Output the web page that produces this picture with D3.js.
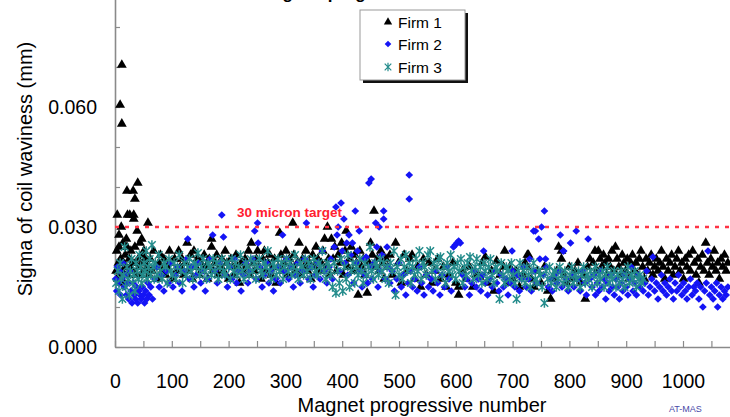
<!DOCTYPE html>
<html>
<head>
<meta charset="utf-8">
<script src="https://cdn.jsdelivr.net/npm/d3@7/dist/d3.min.js"></script>
<style>
body { margin: 0; background: #fff; }
svg text { font-family: "Liberation Sans", Arial, sans-serif; }
</style>
</head>
<body>
<div id="chart"></div>
<script>
// [magnet number, sigma (mm)]
var firm1 = [
  [2,0.019],[3,0.024],[4,0.033],[5,0.017],[6,0.021],[7,0.028],[7,0.025],[8,0.018],[9,0.0605],[10,0.022],[11,0.030],[12,0.0705],[12,0.0558],
  [13,0.019],[14,0.026],[15,0.021],[16,0.016],[18,0.023],[19,0.020],[20,0.027],[21,0.039],[21,0.025],[22,0.033],[23,0.018],[25,0.022],
  [26,0.033],[27,0.020],[28,0.024],[30,0.019],[31,0.021],[32,0.039],[33,0.033],[33,0.032],[35,0.037],[35,0.025],[36,0.021],[37,0.018],
  [39,0.029],[40,0.041],[41,0.022],[43,0.020],[44,0.026],[46,0.018],[47,0.027],[48,0.023],[50,0.021],[51,0.024],[53,0.019],[55,0.022],
  [57,0.020],[58,0.031],[60,0.018],
  [62,0.022],[65,0.019],[68,0.024],[71,0.020],[74,0.017],[77,0.021],[80,0.023],[83,0.019],[86,0.022],[89,0.018],[92,0.020],[96,0.024],
  [99,0.021],[102,0.017],[105,0.022],[108,0.019],[112,0.024],[115,0.020],[118,0.022],[121,0.018],[124,0.021],[127,0.026],[130,0.019],
  [133,0.023],[136,0.017],[139,0.024],[142,0.020],[145,0.022],[148,0.018],[151,0.021],[154,0.019],[157,0.023],[160,0.020],[163,0.017],
  [166,0.022],[170,0.027],[170,0.025],[173,0.019],[176,0.021],[179,0.023],[182,0.018],[185,0.020],[188,0.022],[191,0.019],[194,0.024],
  [197,0.021],[200,0.017],[204,0.022],[207,0.020],[210,0.018],[213,0.023],[216,0.020],[219,0.016],[222,0.021],[226,0.019],[229,0.022],
  [232,0.020],[235,0.024],[238,0.018],[240,0.026],[243,0.021],[246,0.019],[249,0.022],[251,0.024],[254,0.020],[257,0.017],[260,0.022],
  [263,0.024],[266,0.019],[269,0.021],[272,0.023],[275,0.018],[278,0.020],[281,0.022],[284,0.016],[287,0.020],[290,0.0285],[292,0.023],
  [295,0.019],[298,0.021],[301,0.024],[304,0.018],[307,0.022],[310,0.020],[313,0.031],[315,0.023],[318,0.019],[321,0.021],[324,0.026],
  [327,0.018],[330,0.022],[333,0.020],[336,0.024],[339,0.019],[342,0.021],[345,0.017],[348,0.023],[351,0.020],[354,0.025],[357,0.022],
  [360,0.019],[363,0.021],[366,0.024],[369,0.027],[372,0.020],[374,0.030],[376,0.022],[378,0.018],
  [381,0.027],[384,0.022],[387,0.025],[390,0.019],[393,0.023],[396,0.021],[399,0.026],[402,0.018],[405,0.024],[407,0.029],[410,0.020],
  [413,0.022],[416,0.025],[419,0.019],[422,0.023],[425,0.021],[428,0.013],[431,0.024],[434,0.020],[437,0.022],[440,0.018],[444,0.0135],
  [447,0.021],[450,0.026],[453,0.023],[456,0.034],[459,0.020],[462,0.022],[465,0.019],[468,0.024],[471,0.021],[474,0.017],[477,0.022],
  [480,0.020],
  [484,0.023],[489,0.018],[494,0.026],[499,0.021],[504,0.016],[509,0.023],[514,0.019],[519,0.022],[523,0.023],[528,0.017],[533,0.020],
  [538,0.015],[543,0.022],[548,0.018],[553,0.021],[558,0.016],[563,0.019],[568,0.022],[573,0.017],[578,0.020],[583,0.015],[588,0.018],
  [595,0.021],[600,0.016],[605,0.013],[605,0.015],[612,0.019],[618,0.017],[624,0.020],[630,0.015],[636,0.018],[642,0.0175],[647,0.021],
  [652,0.0225],[657,0.016],[663,0.019],[667,0.014],[672,0.0215],[678,0.018],[684,0.020],[686,0.024],[690,0.016],[695,0.020],[700,0.017],
  [706,0.019],[712,0.015],[718,0.018],[722,0.021],[725,0.020],[726,0.023],[728,0.023],[733,0.017],[738,0.015],[744,0.019],[750,0.016],
  [756,0.020],[762,0.014],[767,0.012],[772,0.017],[778,0.019],[781,0.025],[786,0.022],[786,0.024],[790,0.018],[795,0.016],[800,0.020],
  [805,0.017],[810,0.019],[815,0.021],[820,0.016],[825,0.018],[828,0.012],[832,0.020],[836,0.022],
  [842,0.021],[845,0.024],[848,0.019],[851,0.024],[854,0.022],[857,0.020],[860,0.023],[863,0.021],[866,0.018],[869,0.022],[872,0.020],
  [875,0.024],[878,0.019],[881,0.025],[884,0.022],[887,0.020],[890,0.018],[893,0.023],[896,0.021],[899,0.019],[902,0.022],[905,0.017],
  [908,0.021],[911,0.023],[914,0.019],[917,0.021],[920,0.018],[923,0.022],[926,0.024],[929,0.020],[932,0.017],[935,0.022],[938,0.019],
  [941,0.021],[944,0.023],[947,0.018],[950,0.020],[953,0.022],[956,0.019],[959,0.021],[962,0.024],[965,0.020],[968,0.017],[971,0.022],
  [974,0.019],[977,0.021],[980,0.023],[983,0.018],[986,0.020],[989,0.022],[992,0.024],[995,0.019],[998,0.021],[1001,0.017],[1004,0.022],
  [1007,0.020],[1010,0.023],[1013,0.019],[1017,0.024],[1020,0.021],[1023,0.018],[1026,0.022],[1028,0.016],[1031,0.020],[1034,0.023],
  [1037,0.019],[1040,0.026],[1043,0.021],[1046,0.018],[1049,0.022],[1052,0.020],[1055,0.024],[1058,0.019],[1061,0.021],[1064,0.017],
  [1067,0.022],[1070,0.020],[1073,0.023],[1076,0.019],[1079,0.021]
];

var firm2 = [
  [1,0.017],[3,0.014],[4,0.020],[6,0.016],[8,0.019],[10,0.013],[12,0.017],[14,0.021],[16,0.015],[18,0.018],[20,0.013],[22,0.016],
  [24,0.012],[26,0.019],[28,0.014],[30,0.011],[32,0.016],[34,0.013],[36,0.012],[38,0.015],[40,0.011],[42,0.014],[44,0.013],[46,0.012],
  [48,0.015],[50,0.013],[52,0.011],[54,0.014],[56,0.012],[58,0.016],[60,0.013],[63,0.015],[66,0.012],
  [70,0.017],[74,0.020],[78,0.015],[82,0.018],[86,0.014],[90,0.019],[94,0.016],[98,0.021],[102,0.015],[106,0.018],[110,0.020],[114,0.016],
  [118,0.014],[122,0.019],[126,0.022],[128,0.027],[131,0.017],[135,0.020],[139,0.015],[143,0.018],[147,0.021],[151,0.016],[155,0.019],
  [159,0.014],[163,0.017],[167,0.022],[172,0.028],[176,0.019],[180,0.016],[184,0.021],[188,0.033],[191,0.0275],[194,0.018],[198,0.015],
  [202,0.020],[206,0.017],[210,0.022],[214,0.016],[218,0.019],[222,0.014],[226,0.018],[230,0.021],[234,0.016],[238,0.019],[242,0.022],
  [246,0.029],[249,0.017],[251,0.031],[252,0.026],[255,0.020],[259,0.015],[263,0.018],[267,0.021],[271,0.016],[275,0.019],[279,0.014],
  [283,0.017],[287,0.020],[291,0.016],[295,0.028],[298,0.019],[302,0.022],[306,0.017],[310,0.020],[314,0.015],[318,0.018],[322,0.021],
  [326,0.016],[330,0.019],[334,0.022],[337,0.031],[341,0.017],[345,0.020],[349,0.015],[353,0.018],[357,0.021],[361,0.017],[365,0.024],
  [369,0.019],[373,0.016],[377,0.020],
  [380,0.022],[383,0.017],[386,0.025],[389,0.035],[391,0.028],[393,0.030],[395,0.019],[398,0.036],[400,0.024],[403,0.032],[405,0.021],
  [408,0.026],[410,0.018],[412,0.028],[415,0.023],[418,0.026],[420,0.016],[423,0.034],[425,0.021],[427,0.024],[430,0.029],[432,0.019],
  [435,0.015],[438,0.022],[440,0.018],[442,0.0225],[445,0.016],[447,0.041],[449,0.020],[451,0.042],[453,0.017],[456,0.021],[459,0.031],
  [461,0.025],[463,0.015],[465,0.030],[467,0.019],[470,0.023],[473,0.034],[473,0.032],[476,0.017],[479,0.025],[481,0.020],
  [484,0.016],[488,0.019],[492,0.014],[496,0.017],[500,0.021],[504,0.015],[508,0.018],[512,0.013],[516,0.016],[518,0.043],[518,0.037],
  [520,0.019],[524,0.015],[528,0.017],[532,0.014],[536,0.020],[540,0.016],[544,0.013],[548,0.018],[552,0.015],[556,0.017],[560,0.014],
  [564,0.019],[568,0.016],[572,0.013],[576,0.018],[580,0.015],[584,0.020],[588,0.017],[592,0.014],[596,0.025],[599,0.0255],[602,0.026],
  [605,0.0265],[608,0.026],[612,0.018],[616,0.015],[620,0.017],[624,0.013],[628,0.016],[632,0.019],[636,0.015],[640,0.017],[644,0.014],
  [648,0.018],[649,0.024],[652,0.016],[656,0.013],[660,0.017],[664,0.015],[668,0.019],[672,0.016],[676,0.014],[680,0.018],[684,0.015],
  [688,0.017],[692,0.013],[696,0.016],[699,0.024],[700,0.019],
  [704,0.015],[708,0.018],[712,0.014],[716,0.017],[720,0.020],[724,0.015],[728,0.017],[730,0.022],[733,0.014],[737,0.029],[737,0.019],
  [740,0.029],[743,0.016],[746,0.027],[748,0.022],[751,0.030],[754,0.018],[756,0.034],[758,0.022],[760,0.020],[763,0.015],[766,0.017],
  [770,0.014],[774,0.018],[778,0.016],[782,0.019],[784,0.028],[787,0.015],[789,0.024],[790,0.024],[794,0.017],[798,0.014],[802,0.026],
  [805,0.018],[808,0.015],[812,0.029],[815,0.017],[819,0.014],[823,0.019],[827,0.016],[830,0.013],[833,0.027],[836,0.017],
  [840,0.015],[843,0.018],[846,0.013],[849,0.016],[852,0.014],[855,0.019],[858,0.015],[861,0.017],[864,0.012],[867,0.016],[870,0.014],
  [873,0.018],[876,0.015],[879,0.013],[882,0.017],[885,0.015],[888,0.012],[891,0.016],[894,0.014],[897,0.018],[900,0.015],[903,0.013],
  [906,0.017],[909,0.020],[912,0.014],[915,0.016],[918,0.013],[921,0.018],[924,0.015],[927,0.017],[930,0.014],[933,0.016],[936,0.019],
  [939,0.013],[942,0.015],[945,0.017],[947,0.0225],[950,0.014],[953,0.016],[956,0.012],[959,0.015],[962,0.018],[965,0.014],[968,0.016],
  [971,0.013],[974,0.015],[977,0.017],[980,0.014],[983,0.012],[986,0.016],[989,0.014],[992,0.018],[995,0.015],[998,0.013],[1001,0.016],
  [1004,0.014],[1007,0.012],[1010,0.015],[1013,0.017],[1016,0.013],[1019,0.015],[1022,0.014],[1025,0.016],[1028,0.012],[1031,0.015],
  [1035,0.010],[1038,0.014],[1041,0.016],[1044,0.024],[1047,0.013],[1050,0.015],[1053,0.012],[1056,0.014],[1059,0.016],[1061,0.010],
  [1064,0.013],[1067,0.015],[1070,0.012],[1073,0.014],[1076,0.013],[1079,0.015]
];

var firm3 = [
  [2,0.016],[5,0.019],[7,0.014],[9,0.021],[11,0.017],[13,0.012],[15,0.018],[17,0.025],[19,0.015],[21,0.020],[23,0.017],[25,0.013],
  [27,0.019],[29,0.022],[31,0.016],[33,0.018],[35,0.014],[37,0.021],[39,0.019],[41,0.017],[43,0.023],[45,0.020],[47,0.016],[49,0.018],
  [51,0.021],[53,0.019],[55,0.024],[57,0.017],[59,0.020],[61,0.022],[63,0.018],[65,0.0255],[67,0.020],[69,0.017],
  [71,0.021],[74,0.018],[77,0.023],[80,0.019],[83,0.017],[86,0.021],[89,0.020],[92,0.016],[95,0.022],[98,0.019],[101,0.018],[104,0.021],
  [107,0.017],[110,0.020],[113,0.023],[116,0.019],[119,0.016],[122,0.021],[125,0.018],[128,0.020],[131,0.022],[134,0.019],[137,0.017],
  [140,0.021],[143,0.020],[146,0.0235],[149,0.018],[152,0.020],[155,0.022],[158,0.019],[161,0.017],[164,0.021],[167,0.020],[170,0.018],
  [173,0.022],[176,0.019],[179,0.021],[182,0.017],[185,0.020],[188,0.022],[191,0.019],[194,0.018],[197,0.021],[200,0.020],[203,0.017],
  [206,0.022],[209,0.019],[212,0.021],[215,0.018],[218,0.020],[221,0.023],[224,0.019],[227,0.017],[230,0.021],[233,0.020],[236,0.018],
  [239,0.022],[242,0.019],[245,0.021],[248,0.017],[251,0.020],[254,0.022],[257,0.019],[260,0.018],[263,0.021],[266,0.020],[269,0.024],
  [272,0.019],[275,0.017],[278,0.021],[281,0.020],[284,0.018],[287,0.022],[290,0.019],[293,0.021],[296,0.017],[299,0.020],[302,0.022],
  [305,0.019],[308,0.021],[311,0.018],[314,0.020],[317,0.023],[320,0.019],[323,0.017],[326,0.021],[329,0.020],[332,0.018],[335,0.022],
  [338,0.019],[341,0.021],[344,0.017],[347,0.020],[350,0.022],[353,0.019],[356,0.018],[359,0.021],[362,0.020],[365,0.024],[368,0.019],
  [371,0.017],[374,0.021],[377,0.020],
  [380,0.018],[383,0.015],[386,0.021],[389,0.0135],[392,0.019],[395,0.016],[398,0.022],[401,0.014],[404,0.020],[407,0.017],[410,0.023],
  [413,0.015],[416,0.019],[419,0.021],[422,0.016],[425,0.020],[428,0.018],[431,0.022],[434,0.019],[437,0.016],[440,0.021],[443,0.018],
  [446,0.020],[449,0.025],[452,0.019],[455,0.017],[458,0.021],[461,0.020],[464,0.018],[467,0.022],[470,0.019],[473,0.021],[476,0.017],
  [479,0.020],
  [482,0.016],[485,0.021],[488,0.019],[491,0.024],[494,0.013],[497,0.020],[500,0.018],[503,0.022],[506,0.017],[509,0.020],[512,0.023],
  [515,0.019],[518,0.021],[521,0.016],[524,0.020],[527,0.018],[530,0.022],[533,0.019],[536,0.024],[539,0.017],[542,0.021],[545,0.020],
  [548,0.018],[551,0.023],[555,0.024],[558,0.019],[561,0.021],[564,0.017],[567,0.020],[570,0.022],[573,0.0225],[576,0.018],[579,0.020],
  [582,0.016],[585,0.021],[588,0.019],[591,0.023],[594,0.018],[597,0.020],[600,0.017],[603,0.021],[606,0.019],[609,0.022],[612,0.016],
  [615,0.020],[618,0.018],[621,0.021],[625,0.0225],[628,0.019],[631,0.017],[634,0.020],[637,0.022],[640,0.018],[643,0.020],[646,0.016],
  [649,0.021],
  [652,0.019],[655,0.017],[658,0.020],[661,0.022],[664,0.018],[667,0.016],[670,0.020],[673,0.019],[677,0.012],[680,0.021],[683,0.018],
  [686,0.016],[689,0.020],[692,0.019],[695,0.017],[698,0.021],[701,0.018],[704,0.016],[707,0.012],[710,0.019],[713,0.021],[716,0.017],
  [719,0.019],[722,0.016],[725,0.020],[728,0.018],[731,0.015],[734,0.019],[737,0.021],[740,0.017],[743,0.016],[746,0.019],[749,0.018],
  [752,0.015],[756,0.011],[759,0.019],[762,0.017],[765,0.020],[768,0.016],[771,0.018],[774,0.019],[777,0.015],[780,0.017],[783,0.020],
  [786,0.018],[789,0.016],[792,0.019],[795,0.017],[798,0.015],[801,0.018],[804,0.020],[807,0.016],[810,0.018],[813,0.017],[816,0.019],
  [819,0.015],[822,0.018],[825,0.020],[828,0.016],[831,0.018],[834,0.017],[837,0.019],[840,0.015],[843,0.018],[846,0.020],[849,0.016],
  [852,0.018],[855,0.017],[858,0.019],[861,0.015],[864,0.018],[867,0.020],[870,0.016],[873,0.018],[876,0.017],[879,0.019],[882,0.015],
  [885,0.018],[888,0.016],[891,0.019],[894,0.017],[897,0.015],[900,0.018],[903,0.020],[906,0.016],[909,0.018],[912,0.017],[915,0.019],
  [918,0.015],[921,0.017],[924,0.018],[927,0.016],[930,0.017]
];

var seriesNames = ['Firm 1', 'Firm 2', 'Firm 3'];
var targetValue = 0.030;
var targetLabel = '30 micron target';
var xTickValues = [0,50,100,150,200,250,300,350,400,450,500,550,600,650,700,750,800,850,900,950,1000,1050];
var xTickLabels = [0,100,200,300,400,500,600,700,800,900,1000];
var yTickValues = [0,0.01,0.02,0.03,0.04,0.05,0.06,0.07,0.08];
var yTickLabels = [0,0.03,0.06];

var width = 730, height = 417;

var svg = d3.select('#chart').append('svg')
    .attr('width', width)
    .attr('height', height);

var x = d3.scaleLinear()
  .domain([0, 1100])
  .range([115, 115 + 1100 * 0.568]);

var y = d3.scaleLinear()
  .domain([0, 0.09])
  .range([347, 347 - 0.09 * 4000]);

// title, cut off at the top of the picture like in the source slide
svg.append('text')
    .attr('x', 165)
    .attr('y', -1)
    .style('font-size', '17px')
    .style('font-weight', 'bold')
    .text('Waviness along the progressive number');

var xAxis = d3.axisBottom(x)
  .tickValues(xTickValues)
  .tickSizeInner(-6)
  .tickSizeOuter(0)
  .tickPadding(27)
  .tickFormat(function(d) { return xTickLabels.indexOf(d) >= 0 ? d : ''; });

var yAxis = d3.axisLeft(y)
  .tickValues(yTickValues)
  .tickSizeInner(-5)
  .tickSizeOuter(0)
  .tickPadding(18)
  .tickFormat(function(d) {
    return yTickLabels.some(function(v) { return Math.abs(v - d) < 1e-9; }) ? d3.format('.3f')(d) : '';
  });

var gx = svg.append('g')
    .attr('transform', 'translate(0,' + y(0) + ')')
    .call(xAxis);

var gy = svg.append('g')
    .attr('transform', 'translate(' + x(0) + ',0)')
    .call(yAxis);

[gx, gy].forEach(function(g) {
  g.select('.domain').attr('stroke', '#8a8a8a').attr('stroke-width', 1.6);
  g.selectAll('.tick line').attr('stroke', '#8a8a8a').attr('stroke-width', 1.2);
  g.selectAll('.tick text')
      .attr('fill', '#000')
      .style('font-family', '"Liberation Sans", Arial, sans-serif')
      .style('font-size', '19.5px');
});

svg.append('text')
    .attr('x', 422)
    .attr('y', 412)
    .attr('text-anchor', 'middle')
    .style('font-size', '20px')
    .text('Magnet progressive number');

svg.append('text')
    .attr('transform', 'translate(32,169) rotate(-90)')
    .attr('text-anchor', 'middle')
    .style('font-size', '20px')
    .text('Sigma of coil waviness (mm)');

// points: firm 1 first, firm 3 ends up on top
var tri = d3.symbol().type(d3.symbolTriangle).size(42);
var dia = d3.symbol().type(d3.symbolSquare).size(30);
var star = 'M-3.8,-3.8L3.8,3.8M-3.8,3.8L3.8,-3.8M0,-4.8L0,4.8';

svg.append('g').selectAll('path')
  .data(firm1)
  .enter().append('path')
    .attr('d', tri)
    .attr('fill', '#000')
    .attr('transform', function(d) { return 'translate(' + x(d[0]) + ',' + y(d[1]) + ')'; });

svg.append('g').selectAll('path')
  .data(firm2)
  .enter().append('path')
    .attr('d', dia)
    .attr('fill', '#1414f5')
    .attr('transform', function(d) { return 'translate(' + x(d[0]) + ',' + y(d[1]) + ') rotate(45)'; });

svg.append('g').selectAll('path')
  .data(firm3)
  .enter().append('path')
    .attr('d', star)
    .attr('fill', 'none')
    .attr('stroke', '#248c8c')
    .attr('stroke-width', 1.5)
    .attr('transform', function(d) { return 'translate(' + x(d[0]) + ',' + y(d[1]) + ')'; });

// target line
svg.append('line')
    .attr('x1', x(0))
    .attr('x2', width)
    .attr('y1', y(targetValue))
    .attr('y2', y(targetValue))
    .attr('stroke', '#ff3344')
    .attr('stroke-width', 2.5)
    .attr('stroke-dasharray', '4,6');

svg.append('text')
    .attr('x', 237)
    .attr('y', 217)
    .attr('fill', '#ff2030')
    .style('font-size', '13.5px')
    .style('font-weight', 'bold')
    .text(targetLabel);

// legend
var legend = svg.append('g').attr('transform', 'translate(360,10)');

legend.append('rect')
    .attr('x', 3).attr('y', 3)
    .attr('width', 105).attr('height', 70)
    .attr('fill', '#111');

legend.append('rect')
    .attr('width', 105).attr('height', 70)
    .attr('fill', '#fff')
    .attr('stroke', '#9a9a9a');

var legendY = [12, 34, 57];
var legTri = d3.symbol().type(d3.symbolTriangle).size(30);
var legDia = d3.symbol().type(d3.symbolSquare).size(22);

seriesNames.forEach(function(name, i) {
  var g = legend.append('g').attr('transform', 'translate(28,' + legendY[i] + ')');
  if (i === 0) {
    g.append('path').attr('d', legTri).attr('fill', '#000');
  } else if (i === 1) {
    g.append('path').attr('d', legDia).attr('fill', '#1414f5').attr('transform', 'rotate(45)');
  } else {
    g.append('path').attr('d', 'M-3.3,-3.3L3.3,3.3M-3.3,3.3L3.3,-3.3M0,-4.2L0,4.2')
        .attr('fill', 'none').attr('stroke', '#248c8c').attr('stroke-width', 1.2);
  }
  g.append('text')
      .attr('x', 10)
      .attr('y', 5.5)
      .style('font-size', '15.5px')
      .text(name);
});

svg.append('text')
    .attr('x', 669)
    .attr('y', 412)
    .attr('fill', '#4a4aa8')
    .style('font-size', '9px')
    .text('AT-MAS');
</script>
</body>
</html>
